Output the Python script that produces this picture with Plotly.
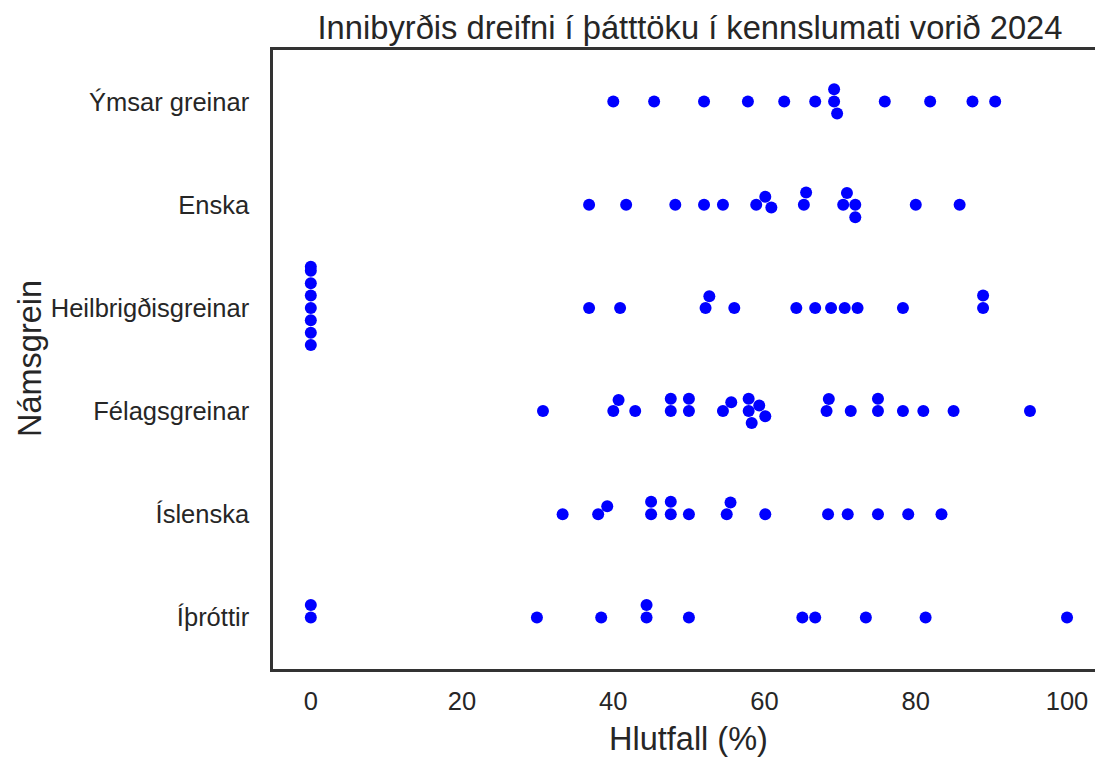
import numpy as np
import plotly.graph_objects as go

# ---------------- data ----------------
categories = ["Ýmsar greinar", "Enska", "Heilbrigðisgreinar",
              "Félagsgreinar", "Íslenska", "Íþróttir"]

ymsar = [40.0, 45.4, 52.0, 57.8, 62.6, 66.7, 69.2, 69.2, 69.6, 75.9, 81.9, 87.5, 90.5]
enska = [36.8, 41.7, 48.2, 52.0, 54.5, 58.9, 60.1, 60.9, 65.2, 65.5, 70.4, 70.9,
         72.0, 72.0, 80.0, 85.8]
heilbrigdis = [0, 0, 0, 0, 0, 0, 0, 0, 36.8, 40.9, 52.2, 52.7, 56.0, 64.2, 66.7,
               68.8, 70.6, 72.3, 78.3, 88.9, 88.9]
felags = [30.7, 40.0, 40.7, 42.9, 47.6, 47.6, 50.0, 50.0, 54.5, 55.6, 57.9, 57.9,
          58.3, 59.3, 60.1, 68.2, 68.5, 71.4, 75.0, 75.0, 78.3, 81.0, 85.0, 95.1]
islenska = [33.3, 38.0, 39.2, 45.0, 45.0, 47.6, 47.6, 50.0, 55.0, 55.5, 60.1,
            68.4, 71.0, 75.0, 79.0, 83.4]
ithrottir = [0, 0, 29.9, 38.4, 44.4, 44.4, 50.0, 65.0, 66.7, 73.4, 81.3, 100.0]

series = [ymsar, enska, heilbrigdis, felags, islenska, ithrottir]
x_ticks = [0, 20, 40, 60, 80, 100]

title_text = "Innibyrðis dreifni í þátttöku í kennslumati vorið 2024"
x_label = "Hlutfall (%)"
y_label = "Námsgrein"

# ---------------- layout geometry ----------------
W, H = 1095, 757
ML, MR, MT, MB = 273, 0, 50, 88
X_RANGE = [-5, 103.7]
plot_w = W - ML - MR
plot_h = H - MT - MB
px_per_x = plot_w / (X_RANGE[1] - X_RANGE[0])
px_per_cat = plot_h / len(categories)
DIAM = 11.8        # swarm point spacing in px
HALF_WIDTH = 0.4   # swarm half width in category units


def swarm_offsets(values):
    """Seaborn-like beeswarm: returns offsets (category units, + = down)."""
    v = np.asarray(values, float) * px_per_x
    order = np.argsort(v, kind="stable")
    placed = []
    offs = np.zeros(len(v))
    for i in order:
        vi = v[i]
        nb = []
        for (o, w) in reversed(placed):
            if vi - w < DIAM:
                nb.append((o, w))
            else:
                break
        cands = [0.0]
        for o, w in nb:
            dy = vi - w
            dx = np.sqrt(max(DIAM ** 2 - dy ** 2, 0.0)) * 1.05
            cands += [o - dx, o + dx]
        cands.sort(key=lambda c: (round(abs(c), 6), c))
        chosen = cands[-1]
        for c in cands:
            if all((c - o) ** 2 + (vi - w) ** 2 >= DIAM ** 2 - 1e-9 for o, w in nb):
                chosen = c
                break
        placed.append((chosen, vi))
        offs[i] = chosen
    return np.clip(offs / px_per_cat, -HALF_WIDTH, HALF_WIDTH)


xs, ys = [], []
for ci, vals in enumerate(series):
    off = swarm_offsets(vals)
    xs.extend(vals)
    ys.extend(list(ci + off))

FONT = "Liberation Sans, Arial, sans-serif"
TXT = "#262626"
SPINE = "#333333"

fig = go.Figure(go.Scatter(
    x=xs, y=ys, mode="markers",
    marker=dict(color="#0000ff", size=12, line=dict(width=0)),
    hoverinfo="x", showlegend=False,
))

fig.update_layout(
    width=W, height=H,
    margin=dict(l=ML, r=MR, t=MT, b=MB, pad=0),
    paper_bgcolor="white", plot_bgcolor="white",
    font=dict(family=FONT, color=TXT, size=25.5),
    title=dict(text=title_text, font=dict(size=32.7, color=TXT, family=FONT),
               x=(690 - ML) / plot_w, xref="paper", xanchor="center",
               y=1 - 28 / H, yref="container", yanchor="middle"),
    xaxis=dict(range=X_RANGE, tickvals=x_ticks, showgrid=False, zeroline=False,
               showline=True, linecolor=SPINE, linewidth=2.5, mirror=True,
               ticks="outside", ticklen=8, tickcolor="rgba(0,0,0,0)",
               tickfont=dict(size=25.5, color=TXT, family=FONT)),
    yaxis=dict(range=[len(categories) - 0.5, -0.5],
               tickvals=list(range(len(categories))), ticktext=categories,
               showgrid=False, zeroline=False,
               showline=True, linecolor=SPINE, linewidth=2.5,
               ticks="outside", ticklen=16, tickcolor="rgba(0,0,0,0)",
               tickfont=dict(size=25.5, color=TXT, family=FONT)),
    annotations=[
        dict(text=x_label, xref="paper", yref="paper",
             x=(688 - ML) / plot_w, y=(H - MB - 739) / plot_h,
             xanchor="center", yanchor="middle", showarrow=False,
             font=dict(size=32.5, color=TXT, family=FONT)),
        dict(text=y_label, xref="paper", yref="paper",
             x=(30 - ML) / plot_w, y=(H - MB - 358) / plot_h,
             xanchor="center", yanchor="middle", showarrow=False, textangle=-90,
             font=dict(size=32.5, color=TXT, family=FONT)),
    ],
)

fig.write_html("out.html",
               config={"displayModeBar": False},
               post_script="document.body.style.margin='0px';"
                           "document.body.style.overflow='hidden';")
